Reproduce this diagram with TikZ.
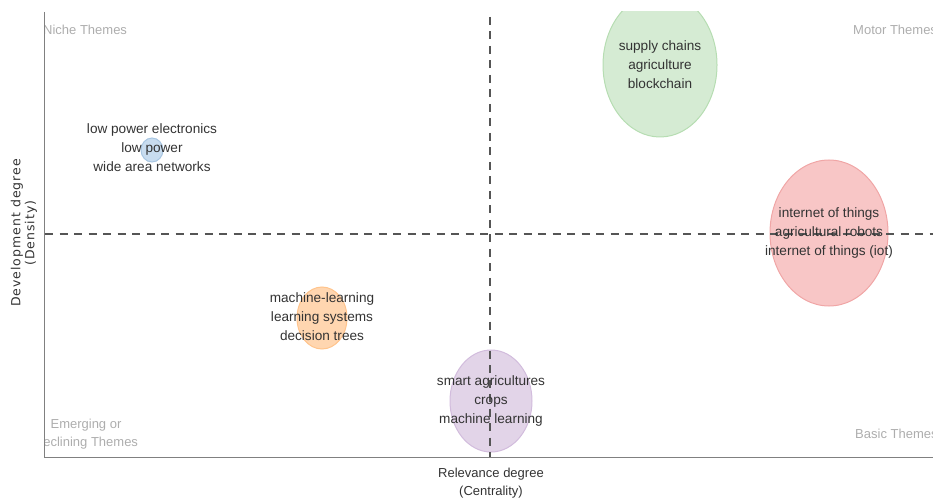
\documentclass[tikz,border=0pt]{standalone}
\usepackage{fontspec}
\setmainfont{Liberation Sans}
\newfontfamily\axisfont[LetterSpace=8]{DejaVu Sans}
\usetikzlibrary{shapes.geometric}
\definecolor{txt}{HTML}{333333}
\definecolor{quad}{HTML}{ADADAD}
\definecolor{axisgray}{HTML}{808080}
\definecolor{dashgray}{HTML}{555555}
\definecolor{bluef}{HTML}{C8DCEF}\definecolor{blued}{HTML}{A8C6E2}
\definecolor{greenf}{HTML}{D5EBD3}\definecolor{greend}{HTML}{B6DDB2}
\definecolor{redf}{HTML}{F8C6C6}\definecolor{redd}{HTML}{F0A6A6}
\definecolor{orangef}{HTML}{FFD6B0}\definecolor{oranged}{HTML}{FFC48C}
\definecolor{purplef}{HTML}{E2D4E8}\definecolor{purpled}{HTML}{D2BCDD}
\tikzset{
  bubble/.style={ellipse, inner sep=0pt, line width=1pt},
  term/.style={text=txt, align=center, inner sep=0pt, font=\fontsize{13.6}{19}\selectfont},
  quadlabel/.style={text=quad, inner sep=0pt, font=\fontsize{13}{18.5}\selectfont},
  axlabel/.style={text=txt, align=center, inner sep=0pt, font=\fontsize{13}{18}\selectfont},
  axisline/.style={draw=axisgray, line width=1pt},
  divider/.style={draw=dashgray, line width=1.4pt, dash pattern=on 8pt off 6.5pt}
}
\begin{document}
\begin{tikzpicture}[x=1pt,y=-1pt]
\useasboundingbox (0,0) rectangle (933,502);
\begin{scope}
\clip (44,12) rectangle (940,457);
% bubbles
\node[bubble, fill=bluef, draw=blued, minimum width=22pt, minimum height=24pt] (bblue) at (152,150) {};
\node[bubble, fill=greenf, draw=greend, minimum width=114pt, minimum height=144pt] (bgreen) at (660,65) {};
\node[bubble, fill=redf, draw=redd, minimum width=118pt, minimum height=146pt] (bred) at (829,233) {};
\node[bubble, fill=orangef, draw=oranged, minimum width=50pt, minimum height=62pt] (borange) at (322,318) {};
\node[bubble, fill=purplef, draw=purpled, minimum width=82pt, minimum height=102pt] (bpurple) at (491,401) {};
% quadrant labels
\node[quadlabel, anchor=west] (niche) at (43,30) {Niche Themes};
\node[quadlabel, anchor=west] (motor) at (853,30) {Motor Themes};
\node[quadlabel, anchor=west] (basic) at (855,434) {Basic Themes};
\node[quadlabel, align=center] (emerging) at (86,434) {Emerging or\\Declining Themes};
\end{scope}
% dividers
\coordinate (vtop) at (490,17);
\coordinate (vbot) at (490,457);
\coordinate (hleft) at (45,234);
\coordinate (hright) at (933,234);
\draw[divider] (vtop) -- (vbot);
\draw[divider] (hleft) -- (hright);
% axes
\coordinate (origin) at (44,457);
\coordinate (ytop) at (44,12);
\coordinate (xend) at (933,457);
\draw[axisline] (ytop) -- (origin) -- (xend);
% terms
\node[term] (tblue) at (152,148) {low power electronics\\low power\\wide area networks};
\node[term] (tgreen) at (660,65) {supply chains\\agriculture\\blockchain};
\node[term] (tred) at (829,233) {internet of things\\agricultural robots\\internet of things (iot)};
\node[term] (torange) at (322,317) {machine-learning\\learning systems\\decision trees};
\node[term] (tpurple) at (491,401) {smart agricultures\\crops\\machine learning};
% axis labels
\node[axlabel] (xlab) at (491,483) {Relevance degree\\(Centrality)};
\node[text=txt, align=center, inner sep=0pt, rotate=90, font=\axisfont\fontsize{12.5}{14}\selectfont] (ylab) at (24,233) {Development degree\\(Density)};
\end{tikzpicture}
\end{document}
